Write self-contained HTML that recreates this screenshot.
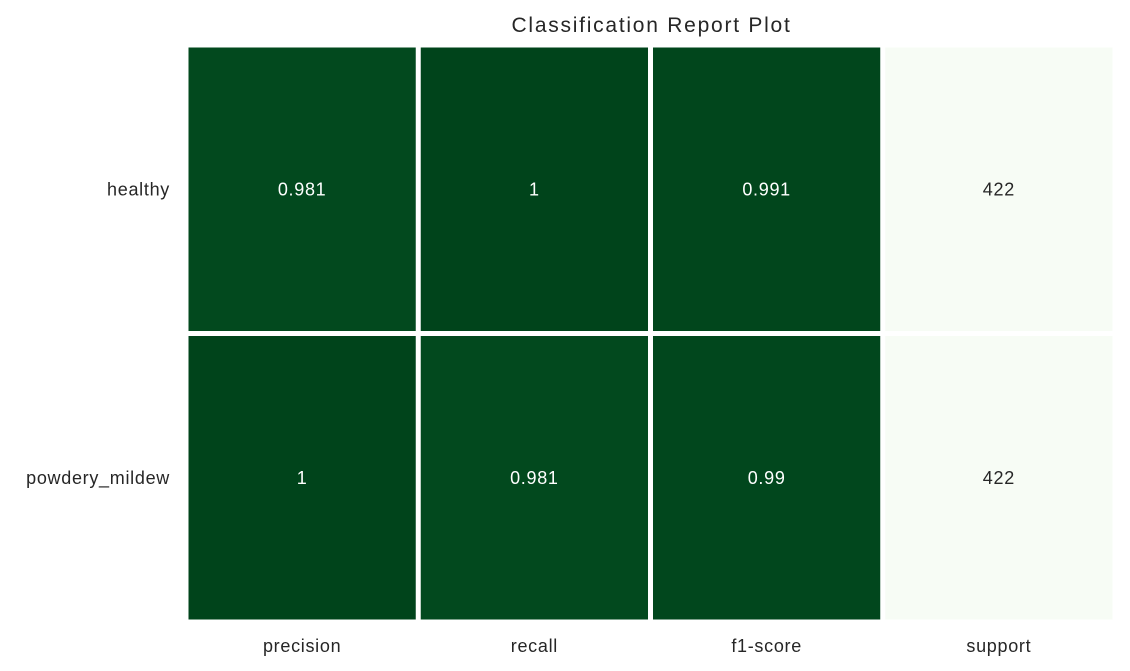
<!DOCTYPE html>
<html><head><meta charset="utf-8"><style>
body{margin:0;background:#fff;font-family:"Liberation Sans","DejaVu Sans",sans-serif;}
svg{display:block}
text{letter-spacing:0.7px}
</style></head><body>
<svg id="chart" width="1130" height="671">
<text x="651" y="32" text-anchor="middle" font-size="21" fill="#262626" textLength="279">Classification Report Plot</text>
</svg>
<script>
const rowLabels = ["healthy", "powdery_mildew"];
const colLabels = ["precision", "recall", "f1-score", "support"];
const row0Values = [0.981, 1, 0.991, 422];
const row1Values = [1, 0.981, 0.99, 422];
const values = [row0Values, row1Values];

const svg = document.getElementById('chart');
const NS = 'http://www.w3.org/2000/svg';
const x0 = 186, x1 = 1115, y0 = 45, y1 = 622;
const cw = (x1 - x0) / colLabels.length, ch = (y1 - y0) / rowLabels.length;
function xPos(i){return x0 + i*cw;}
function yPos(j){return y0 + j*ch;}
function lerp(a,b,t){return Math.round(a+(b-a)*t);}
function metricColor(v){
  const t = Math.max(0, Math.min(1, (v - 0.981) / 0.019));
  return `rgb(${lerp(2,0,t)},${lerp(73,68,t)},${lerp(30,27,t)})`;
}
function cellColor(v, c){
  if (colLabels[c] === 'support') return '#f7fcf5';
  return metricColor(v);
}
values.forEach((row, r) => {
  row.forEach((v, c) => {
    const rect = document.createElementNS(NS, 'rect');
    rect.setAttribute('x', xPos(c) + 2.5);
    rect.setAttribute('y', yPos(r) + 2.5);
    rect.setAttribute('width', cw - 5);
    rect.setAttribute('height', ch - 5);
    rect.setAttribute('fill', cellColor(v, c));
    
    
    svg.appendChild(rect);
    const t = document.createElementNS(NS, 'text');
    t.setAttribute('x', xPos(c) + cw/2);
    t.setAttribute('y', yPos(r) + ch/2 + 6);
    t.setAttribute('text-anchor', 'middle');
    t.setAttribute('font-size', '18');
    t.setAttribute('fill', colLabels[c] === 'support' ? '#262626' : '#ffffff');
    t.textContent = String(v);
    
    
    svg.appendChild(t);
  });
});
rowLabels.forEach((l, r) => {
  const t = document.createElementNS(NS, 'text');
  t.setAttribute('x', 170);
  t.setAttribute('y', yPos(r) + ch/2 + 6);
  t.setAttribute('text-anchor', 'end');
  t.setAttribute('font-size', '18');
  t.setAttribute('fill', '#262626');
  t.textContent = l;
  
  
  svg.appendChild(t);
});
colLabels.forEach((l, c) => {
  const t = document.createElementNS(NS, 'text');
  t.setAttribute('x', xPos(c) + cw/2);
  t.setAttribute('y', 652);
  t.setAttribute('text-anchor', 'middle');
  t.setAttribute('font-size', '18');
  t.setAttribute('fill', '#262626');
  t.textContent = l;
  
  
  svg.appendChild(t);
});
</script>
</body></html>
